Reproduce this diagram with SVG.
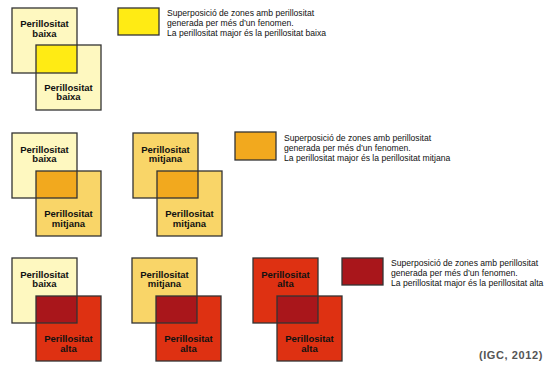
<svg xmlns="http://www.w3.org/2000/svg" width="548" height="368" viewBox="0 0 548 368">
<style>
.sq{stroke:none}
.ol{fill:none;stroke:#333;stroke-width:1.3}
.baixa{fill:#FEF8C0}
.mitjana{fill:#F9D568}
.alta{fill:#DE3112}
.ovY{fill:#FFEB14}
.ovO{fill:#F2A91E}
.ovR{fill:#A9161B}
.lbl{font-family:"Liberation Sans",Arial,sans-serif;font-weight:bold;font-size:9.5px;fill:#111;text-anchor:middle}
.leg{font-family:"Liberation Sans",Arial,sans-serif;font-size:8.6px;fill:#111}
.src{font-family:"Liberation Sans",Arial,sans-serif;font-weight:bold;font-size:11px;fill:#555;letter-spacing:0.6px;text-anchor:end}
</style>
<rect width="548" height="368" fill="#fff"/>

<!-- Row 1 -->
<g id="r1p1">
  <rect class="sq baixa" x="12" y="8" width="65" height="65"/>
  <rect class="sq baixa" x="36" y="45" width="65" height="65"/>
  <rect class="sq ovY" x="36" y="45" width="41" height="28"/>
  <rect class="ol" x="12" y="8" width="65" height="65"/>
  <rect class="ol" x="36" y="45" width="65" height="65"/>
  <text class="lbl" x="44.5" y="27">Perillositat</text>
  <text class="lbl" x="44.5" y="36.5">baixa</text>
  <text class="lbl" x="68.5" y="90.5">Perillositat</text>
  <text class="lbl" x="68.5" y="100">baixa</text>
</g>
<g id="leg1">
  <rect class="ovY" x="118" y="8" width="41" height="27" stroke="#333" stroke-width="1.3"/>
  <text class="leg" x="167" y="15.5">Superposició de zones amb perillositat</text>
  <text class="leg" x="167" y="25.5">generada per més d’un fenomen.</text>
  <text class="leg" x="167" y="35.5">La perillositat major és la perillositat baixa</text>
</g>

<!-- Row 2 -->
<g id="r2p1">
  <rect class="sq baixa" x="12" y="133" width="65" height="65"/>
  <rect class="sq mitjana" x="36" y="171" width="65" height="65"/>
  <rect class="sq ovO" x="36" y="171" width="41" height="27"/>
  <rect class="ol" x="12" y="133" width="65" height="65"/>
  <rect class="ol" x="36" y="171" width="65" height="65"/>
  <text class="lbl" x="44.5" y="152.5">Perillositat</text>
  <text class="lbl" x="44.5" y="162">baixa</text>
  <text class="lbl" x="68.5" y="217">Perillositat</text>
  <text class="lbl" x="68.5" y="226.5">mitjana</text>
</g>
<g id="r2p2">
  <rect class="sq mitjana" x="133" y="133" width="65" height="65"/>
  <rect class="sq mitjana" x="157" y="171" width="65" height="65"/>
  <rect class="sq ovO" x="157" y="171" width="41" height="27"/>
  <rect class="ol" x="133" y="133" width="65" height="65"/>
  <rect class="ol" x="157" y="171" width="65" height="65"/>
  <text class="lbl" x="165.5" y="152.5">Perillositat</text>
  <text class="lbl" x="165.5" y="162">mitjana</text>
  <text class="lbl" x="189.5" y="217">Perillositat</text>
  <text class="lbl" x="189.5" y="226.5">mitjana</text>
</g>
<g id="leg2">
  <rect class="ovO" x="235" y="132" width="41" height="28" stroke="#333" stroke-width="1.3"/>
  <text class="leg" x="284" y="140.5">Superposició de zones amb perillositat</text>
  <text class="leg" x="284" y="150.5">generada per més d’un fenomen.</text>
  <text class="leg" x="284" y="160.5">La perillositat major és la perillositat mitjana</text>
</g>

<!-- Row 3 -->
<g id="r3p1">
  <rect class="sq baixa" x="12" y="258" width="65" height="65"/>
  <rect class="sq alta" x="36" y="296" width="65" height="65"/>
  <rect class="sq ovR" x="36" y="296" width="41" height="27"/>
  <rect class="ol" x="12" y="258" width="65" height="65"/>
  <rect class="ol" x="36" y="296" width="65" height="65"/>
  <text class="lbl" x="44.5" y="277.5">Perillositat</text>
  <text class="lbl" x="44.5" y="287">baixa</text>
  <text class="lbl" x="68.5" y="342">Perillositat</text>
  <text class="lbl" x="68.5" y="351.5">alta</text>
</g>
<g id="r3p2">
  <rect class="sq mitjana" x="132" y="258" width="65" height="65"/>
  <rect class="sq alta" x="156" y="296" width="65" height="65"/>
  <rect class="sq ovR" x="156" y="296" width="41" height="27"/>
  <rect class="ol" x="132" y="258" width="65" height="65"/>
  <rect class="ol" x="156" y="296" width="65" height="65"/>
  <text class="lbl" x="164.5" y="277.5">Perillositat</text>
  <text class="lbl" x="164.5" y="287">mitjana</text>
  <text class="lbl" x="188.5" y="342">Perillositat</text>
  <text class="lbl" x="188.5" y="351.5">alta</text>
</g>
<g id="r3p3">
  <rect class="sq alta" x="253" y="258" width="65" height="65"/>
  <rect class="sq alta" x="277" y="296" width="65" height="65"/>
  <rect class="sq ovR" x="277" y="296" width="41" height="27"/>
  <rect class="ol" x="253" y="258" width="65" height="65"/>
  <rect class="ol" x="277" y="296" width="65" height="65"/>
  <text class="lbl" x="285.5" y="277.5">Perillositat</text>
  <text class="lbl" x="285.5" y="287">alta</text>
  <text class="lbl" x="309.5" y="342">Perillositat</text>
  <text class="lbl" x="309.5" y="351.5">alta</text>
</g>
<g id="leg3">
  <rect class="ovR" x="342" y="258" width="41" height="27" stroke="#333" stroke-width="1.3"/>
  <text class="leg" x="391" y="266">Superposició de zones amb perillositat</text>
  <text class="leg" x="391" y="276">generada per més d’un fenomen.</text>
  <text class="leg" x="391" y="286">La perillositat major és la perillositat alta</text>
</g>

<text id="source" class="src" x="543" y="359">(IGC, 2012)</text>
</svg>
